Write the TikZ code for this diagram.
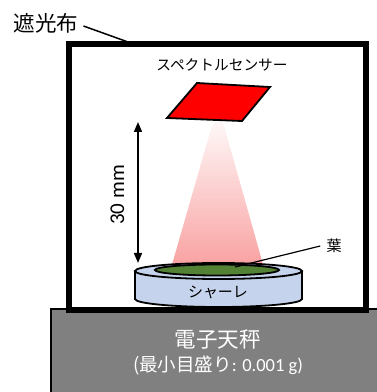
\documentclass[tikz,border=0pt]{standalone}
\usepackage{fontspec}
\setmainfont{Carlito}
\newfontfamily\jp{Noto Sans CJK JP}
\usepackage{tikz}
\usetikzlibrary{arrows.meta,shapes.geometric}
\definecolor{sensred}{RGB}{255,0,0}
\definecolor{dishblue}{RGB}{197,212,236}
\definecolor{leafgreen}{RGB}{84,130,53}
\definecolor{scalegray}{RGB}{128,128,128}
\definecolor{beampink}{RGB}{249,160,160}

\begin{document}
\begin{tikzpicture}[x=1pt,y=1pt,
		jptext/.style={font=\jp\fontsize{#1}{#1}\selectfont,inner sep=1pt},
		leader/.style={line width=1.5pt}]
			\useasboundingbox (0,0) rectangle (376,392);

			% balance
			\draw [fill=scalegray, line width=1.2pt] (51,83) rectangle (385,-5);
			\node[jptext=21.5, text=white] (balance) at (218,52) {電子天秤};
			\node[jptext=18.5, text=white] (balancesub) at (218,26) {(\jp 最小目盛り\rmfamily: 0.001 g)};

			% light-proof cover
			\draw [line width=6pt] (69,82) rectangle (366,347.5);
			\node[jptext=21.5] (cloth) at (46,369) {遮光布};
			\coordinate (clothpt) at (128,350);
			\draw [leader] ([yshift=-3pt]cloth.east) ++(4,0) -- (clothpt);

			% beam from the sensor
			\shade [top color=beampink!8, bottom color=beampink] (213,270) -- (223,270) -- (264,124) -- (171,124) -- cycle;

			% sensor
			\draw [fill=sensred, line width=1.8pt] (197,309) -- (270,305) -- (242,271) -- (167,274) -- cycle;
			\node[jptext=14.7] (sensorlbl) at (222,327) {スペクトルセンサー};

			% distance
			\coordinate (disttop) at (138,270);
			\coordinate (distbot) at (138,129);
			\draw [line width=1.6pt, {Triangle[length=10pt,width=8pt]}-{Triangle[length=10pt,width=8pt]}] (disttop) -- (distbot);
			\node[font=\fontsize{21}{21}\selectfont, rotate=90] (dist) at (117.5,197) {30 mm};

			% petri dish
			\draw [fill=dishblue, line width=1.8pt] (135,121) -- (135,93) arc (180:360:83.5 and 8) -- (302,121);
			\draw [fill=dishblue, line width=1.8pt] (218.5,121) ellipse (83.5 and 8);
			\draw [fill=leafgreen, line width=1.8pt] (217,122) ellipse (62 and 5.5);
			\node[jptext=15] (petri) at (218,100) {シャーレ};

			% leaf
			\node[jptext=15] (leaflbl) at (334,146) {葉};
			\coordinate (leafpt) at (235,125);
			\draw [line width=1.2pt] ([xshift=-5pt]leaflbl.west) -- (leafpt);
		\end{tikzpicture}
\end{document}
